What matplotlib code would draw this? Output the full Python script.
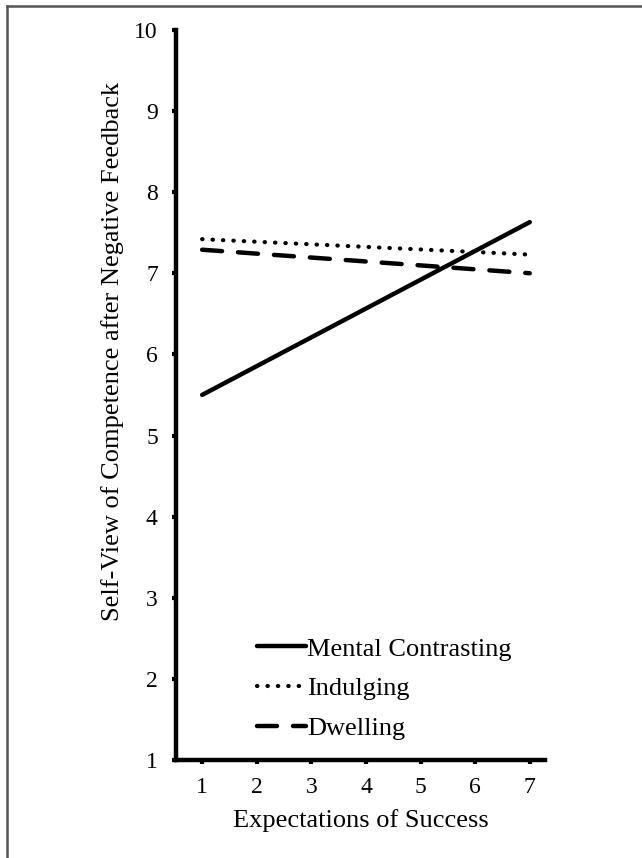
import numpy as np
import matplotlib.pyplot as plt
from matplotlib.lines import Line2D

plt.rcParams['font.family'] = ['Liberation Serif', 'DejaVu Serif']

# expectation levels at which the simple slopes are drawn
expectations = [1, 7]
mental_contrasting = [5.50, 7.63]
indulging = [7.42, 7.23]
dwelling = [7.29, 7.00]

x_ticks = [1, 2, 3, 4, 5, 6, 7]
y_ticks = [1, 2, 3, 4, 5, 6, 7, 8, 9, 10]

fig = plt.figure(figsize=(6.42, 8.58), dpi=100)
ax = fig.add_axes([0.274, 0.1142, 0.575, 0.851])

ax.plot(expectations, mental_contrasting, color='black', lw=3.2,
        solid_capstyle='round', label='Mental Contrasting')
ax.plot(expectations, indulging, color='black', lw=3, linestyle=(0, (0.1, 2.4)),
        dash_capstyle='round', label='Indulging')
ax.plot(expectations, dwelling, color='black', lw=3.2, linestyle=(0, (4.5, 3.6)),
        dash_capstyle='round', label='Dwelling')

ax.set_xlim(0.52, 7.28)
ax.set_ylim(1, 10)
ax.set_xticks(x_ticks)
ax.set_yticks(y_ticks)

for side in ['top', 'right']:
    ax.spines[side].set_visible(False)
for side in ['left', 'bottom']:
    ax.spines[side].set_linewidth(3.2)
ax.spines['left'].set_bounds(1, 10)

ax.tick_params(axis='both', direction='out', length=3, width=3, labelsize=17)
ax.tick_params(axis='y', pad=10)
ax.tick_params(axis='x', pad=9)

ax.set_xlabel('Expectations of Success', fontsize=19, labelpad=8)
ax.set_ylabel('Self-View of Competence after Negative Feedback', fontsize=19)
ax.yaxis.set_label_coords(-0.14, 0.56)

leg = ax.legend(loc='lower left', bbox_to_anchor=(0.219, 0.027), frameon=False,
                fontsize=19, handlelength=1.85, handletextpad=0.05,
                labelspacing=0.62, borderaxespad=0, borderpad=0)

# page frame along the top and left edges
fig.add_artist(Line2D([7 / 642, 7 / 642], [0, 1 - 6 / 858], transform=fig.transFigure,
                      color='#555555', lw=1.8))
fig.add_artist(Line2D([7 / 642, 1], [1 - 6 / 858, 1 - 6 / 858], transform=fig.transFigure,
                      color='#555555', lw=1.8))

fig.savefig('out.png', dpi=100)
